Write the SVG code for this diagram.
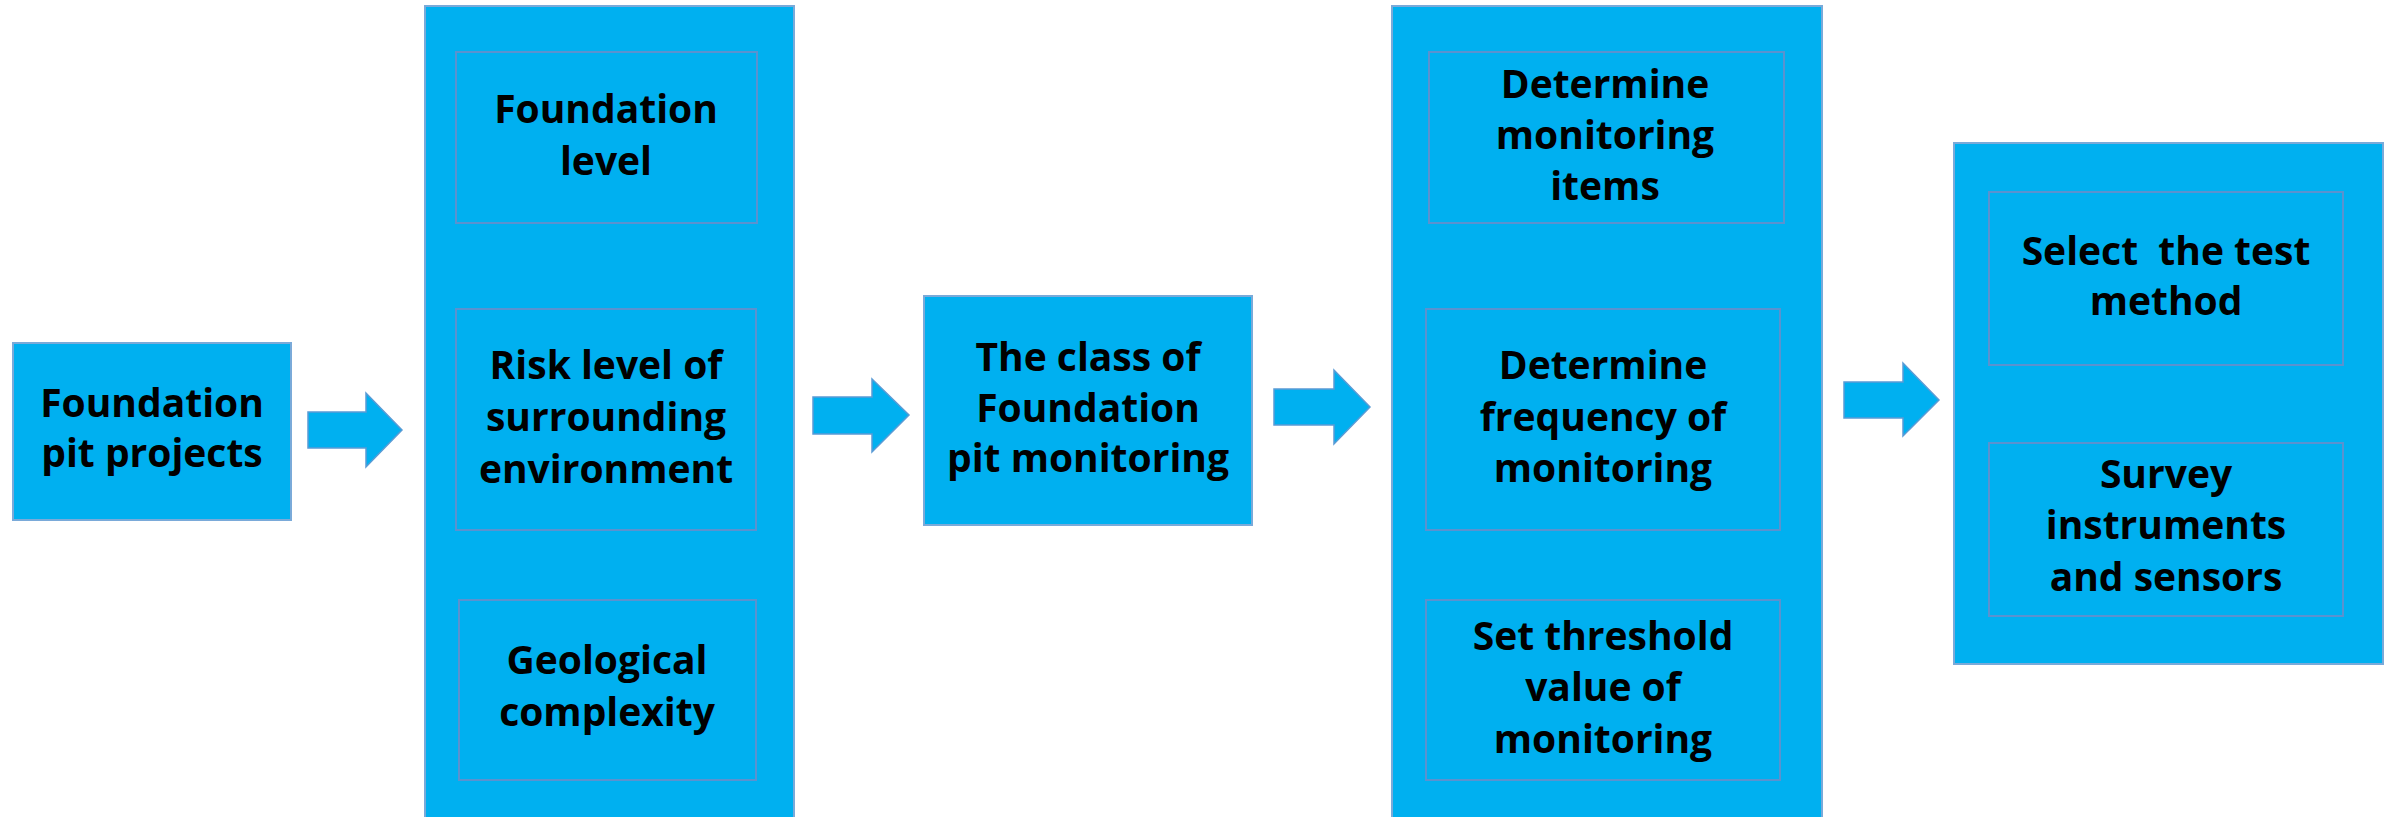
<svg xmlns="http://www.w3.org/2000/svg" width="2390" height="817" viewBox="0 0 2390 817">
<style>
.outer{fill:#00B0F0;stroke:#7AAAD9;stroke-width:2}
.inner{fill:#00B0F0;stroke:#5A92CF;stroke-width:2}
.arrow{fill:#00B0F0;stroke:#5A9BD5;stroke-width:1.5}
text{font-family:"Open Sans","Noto Sans","Liberation Sans",sans-serif;font-weight:bold;font-size:39px;fill:#000;text-anchor:middle}
</style>
<rect x="0" y="0" width="2390" height="817" fill="#ffffff"/>
<g id="connectors">
<polygon class="arrow" points="308,412 366,412 366,393 402,430 366,467 366,448 308,448"/>
<polygon class="arrow" points="813,397 872,397 872,379 909,415 872,452 872,434 813,434"/>
<polygon class="arrow" points="1274,389 1334,389 1334,370 1370,407 1334,444 1334,425 1274,425"/>
<polygon class="arrow" points="1844,382 1903,382 1903,363 1939,400 1903,436 1903,418 1844,418"/>
</g>
<g id="node-projects">
<rect class="outer" x="13" y="343" width="278" height="177"/>
<text x="152" y="417">Foundation</text>
<text x="152" y="467">pit projects</text>
</g>
<g id="panel-factors">
<rect class="outer" x="425" y="6" width="369" height="830"/>
</g>
<g id="node-foundation-level">
<rect class="inner" x="456" y="52" width="301" height="171"/>
<text x="606" y="123">Foundation</text>
<text x="606" y="175">level</text>
</g>
<g id="node-risk-level">
<rect class="inner" x="456" y="309" width="300" height="221"/>
<text x="606" y="379">Risk level of</text>
<text x="606" y="431">surrounding</text>
<text x="606" y="483">environment</text>
</g>
<g id="node-geological">
<rect class="inner" x="459" y="600" width="297" height="180"/>
<text x="607" y="674">Geological</text>
<text x="607" y="726">complexity</text>
</g>
<g id="node-class">
<rect class="outer" x="924" y="296" width="328" height="229"/>
<text x="1088" y="371">The class of</text>
<text x="1088" y="422">Foundation</text>
<text x="1088" y="472">pit monitoring</text>
</g>
<g id="panel-determine">
<rect class="outer" x="1392" y="6" width="430" height="830"/>
</g>
<g id="node-items">
<rect class="inner" x="1429" y="52" width="355" height="171"/>
<text x="1605" y="98">Determine</text>
<text x="1605" y="149">monitoring</text>
<text x="1605" y="200">items</text>
</g>
<g id="node-frequency">
<rect class="inner" x="1426" y="309" width="354" height="221"/>
<text x="1603" y="379">Determine</text>
<text x="1603" y="431">frequency of</text>
<text x="1603" y="482">monitoring</text>
</g>
<g id="node-threshold">
<rect class="inner" x="1426" y="600" width="354" height="180"/>
<text x="1603" y="650">Set threshold</text>
<text x="1603" y="701">value of</text>
<text x="1603" y="753">monitoring</text>
</g>
<g id="panel-method">
<rect class="outer" x="1954" y="143" width="429" height="521"/>
</g>
<g id="node-test-method">
<rect class="inner" x="1989" y="192" width="354" height="173"/>
<text x="2166" y="265" xml:space="preserve">Select  the test</text>
<text x="2166" y="315">method</text>
</g>
<g id="node-instruments">
<rect class="inner" x="1989" y="443" width="354" height="173"/>
<text x="2166" y="488">Survey</text>
<text x="2166" y="539">instruments</text>
<text x="2166" y="591">and sensors</text>
</g>
</svg>
